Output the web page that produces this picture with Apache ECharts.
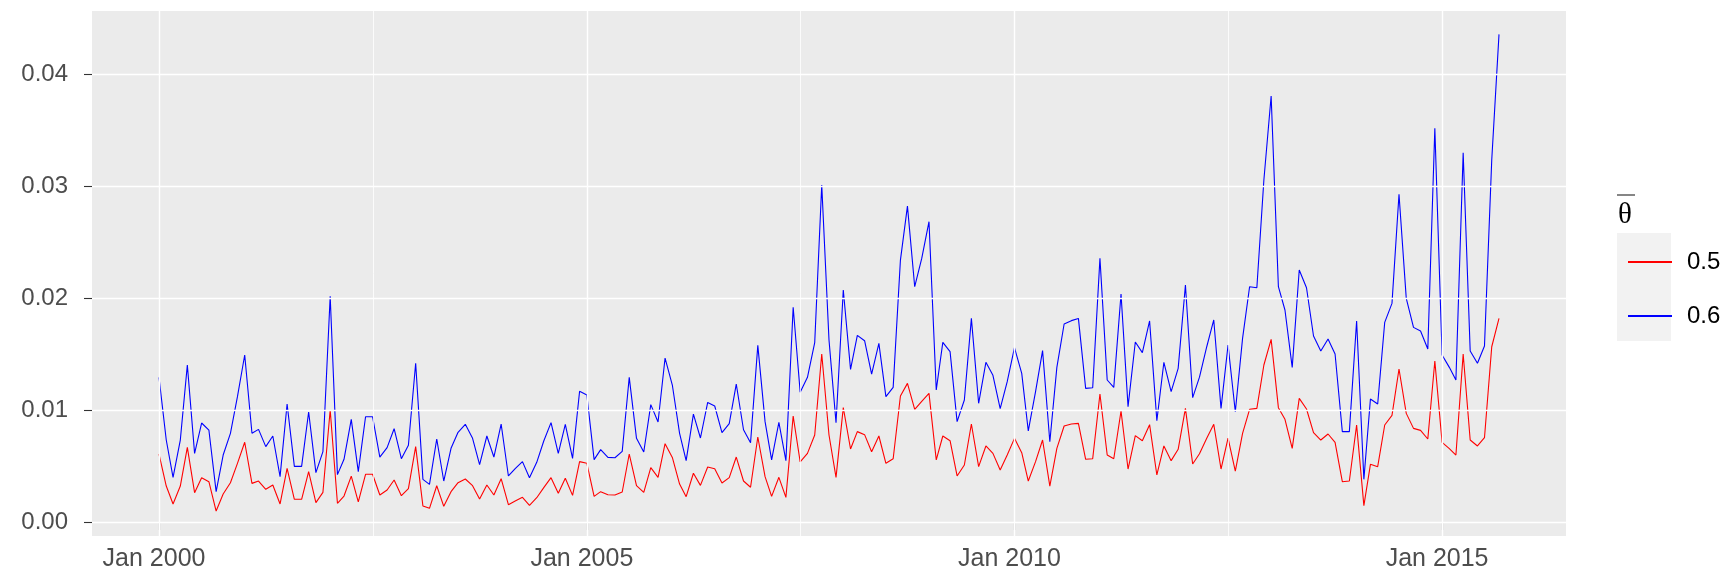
<!DOCTYPE html>
<html>
<head>
<meta charset="utf-8">
<script src="https://cdn.jsdelivr.net/npm/echarts@6/dist/echarts.min.js"></script>
<style>
html,body{margin:0;padding:0;background:#fff;}
#chart{width:1732px;height:578px;}
</style>
</head>
<body>
<div id="chart"></div>
<script>
// ---- data ----
const startYear = 2000;              // first month: Jan 2000, monthly to Sep 2015
const seriesNames = ['0.5', '0.6'];
const theta05 = [
0.00607,0.00321,0.00161,0.00321,0.00667,0.00262,0.00396,0.00360,0.00098,0.00250,0.00351,0.00524,
0.00712,0.00345,0.00366,0.00292,0.00330,0.00161,0.00479,0.00203,0.00203,0.00449,0.00173,0.00265,
0.01000,0.00167,0.00232,0.00410,0.00179,0.00426,0.00426,0.00241,0.00286,0.00375,0.00235,0.00298,
0.00673,0.00143,0.00122,0.00324,0.00140,0.00271,0.00351,0.00384,0.00324,0.00205,0.00330,0.00241,
0.00387,0.00155,0.00188,0.00220,0.00149,0.00217,0.00307,0.00396,0.00256,0.00390,0.00238,0.00539,
0.00524,0.00229,0.00271,0.00244,0.00241,0.00268,0.00607,0.00324,0.00265,0.00485,0.00399,0.00699,
0.00577,0.00339,0.00226,0.00435,0.00327,0.00491,0.00476,0.00348,0.00396,0.00580,0.00366,0.00310,
0.00759,0.00405,0.00229,0.00399,0.00220,0.00946,0.00536,0.00613,0.00777,0.01500,0.00777,0.00399,
0.01021,0.00652,0.00807,0.00780,0.00628,0.00768,0.00524,0.00565,0.01125,0.01238,0.01006,0.01077,
0.01149,0.00554,0.00768,0.00726,0.00411,0.00509,0.00875,0.00494,0.00679,0.00613,0.00464,0.00598,
0.00747,0.00619,0.00366,0.00539,0.00732,0.00321,0.00658,0.00857,0.00875,0.00881,0.00560,0.00565,
0.01143,0.00598,0.00565,0.00991,0.00473,0.00771,0.00726,0.00869,0.00420,0.00679,0.00548,0.00649,
0.01015,0.00518,0.00610,0.00747,0.00872,0.00473,0.00750,0.00455,0.00792,0.01006,0.01015,0.01402,
0.01631,0.01021,0.00917,0.00658,0.01104,0.01009,0.00798,0.00732,0.00786,0.00711,0.00360,0.00366,
0.00866,0.00146,0.00515,0.00494,0.00866,0.00952,0.01366,0.00970,0.00836,0.00818,0.00741,0.01438,
0.00711,0.00655,0.00598,0.01500,0.00732,0.00679,0.00753,0.01565,0.01818
];
const theta06 = [
0.01292,0.00732,0.00399,0.00732,0.01402,0.00613,0.00884,0.00821,0.00271,0.00598,0.00792,0.01119,
0.01491,0.00792,0.00827,0.00673,0.00768,0.00405,0.01054,0.00497,0.00497,0.00982,0.00441,0.00628,
0.02015,0.00423,0.00560,0.00917,0.00450,0.00940,0.00940,0.00580,0.00664,0.00833,0.00565,0.00685,
0.01417,0.00381,0.00336,0.00741,0.00366,0.00658,0.00801,0.00872,0.00747,0.00512,0.00768,0.00580,
0.00875,0.00411,0.00476,0.00539,0.00396,0.00533,0.00723,0.00887,0.00613,0.00872,0.00568,0.01167,
0.01134,0.00557,0.00646,0.00577,0.00574,0.00631,0.01292,0.00747,0.00625,0.01048,0.00893,0.01464,
0.01223,0.00792,0.00548,0.00964,0.00750,0.01068,0.01036,0.00798,0.00878,0.01232,0.00824,0.00708,
0.01577,0.00896,0.00554,0.00890,0.00548,0.01917,0.01158,0.01292,0.01601,0.03009,0.01625,0.00887,
0.02071,0.01363,0.01667,0.01619,0.01321,0.01595,0.01119,0.01202,0.02339,0.02821,0.02101,0.02354,
0.02682,0.01179,0.01604,0.01521,0.00896,0.01089,0.01818,0.01060,0.01426,0.01310,0.01012,0.01253,
0.01557,0.01327,0.00813,0.01164,0.01530,0.00717,0.01381,0.01768,0.01798,0.01818,0.01193,0.01199,
0.02354,0.01268,0.01202,0.02036,0.01030,0.01607,0.01512,0.01795,0.00905,0.01426,0.01164,0.01372,
0.02116,0.01110,0.01293,0.01565,0.01804,0.01015,0.01580,0.00985,0.01640,0.02101,0.02092,0.03054,
0.03804,0.02101,0.01893,0.01381,0.02250,0.02092,0.01661,0.01527,0.01634,0.01500,0.00807,0.00807,
0.01795,0.00381,0.01098,0.01054,0.01783,0.01952,0.02926,0.01997,0.01738,0.01705,0.01545,0.03515,
0.01491,0.01381,0.01268,0.03298,0.01527,0.01417,0.01571,0.03232,0.04354
];
const xTickYears = [2000, 2005, 2010, 2015];
const yTickValues = [0, 0.01, 0.02, 0.03, 0.04];
const yMinorValues = [0.005, 0.015, 0.025, 0.035, 0.045];
const colors = ['#FF0000', '#0000FF'];

// ---- derived ----
const dates = theta05.map((_, i) => Date.UTC(startYear, i, 1));
const firstDate = dates[0], lastDate = dates[dates.length - 1];
const pad = (lastDate - firstDate) * 0.05;
const xMin = firstDate - pad, xMax = lastDate + pad;
const xMajor = xTickYears.map(y => Date.UTC(y, 0, 1));
const xMinor = [];
for (let i = 0; i < xMajor.length - 1; i++) xMinor.push((xMajor[i] + xMajor[i + 1]) / 2);

const gridMajorW = 1.4, gridMinorW = 0.8;
const gridLines = []
  .concat(xMinor.map(v => ({ xAxis: v, lineStyle: { width: gridMinorW } })))
  .concat(yMinorValues.map(v => ({ yAxis: v, lineStyle: { width: gridMinorW } })))
  .concat(xMajor.map(v => ({ xAxis: v, lineStyle: { width: gridMajorW } })))
  .concat(yTickValues.map(v => ({ yAxis: v, lineStyle: { width: gridMajorW } })));

const FONT = '"Liberation Sans", Arial, Helvetica, sans-serif';
const chart = echarts.init(document.getElementById('chart'), null, { renderer: 'canvas' });
chart.setOption({
  animation: false,
  backgroundColor: '#FFFFFF',
  grid: { left: 92, right: 166, top: 11, bottom: 42, show: true, backgroundColor: '#EBEBEB', borderWidth: 0 },
  xAxis: {
    type: 'value', min: xMin, max: xMax,
    splitLine: { show: false },
    axisLine: { show: false },
    axisTick: { show: true, customValues: xMajor, length: 8, lineStyle: { color: '#333333', width: 1.1 } },
    axisLabel: {
      customValues: xMajor,
      formatter: v => 'Jan ' + new Date(v).getUTCFullYear(),
      fontSize: 25, color: '#4D4D4D', fontFamily: FONT, margin: 11, padding: [0, 10, 0, 0]
    }
  },
  yAxis: {
    type: 'value', min: -0.00125, max: 0.04563,
    splitLine: { show: false },
    axisLine: { show: false },
    axisTick: { show: true, customValues: yTickValues, length: 8, lineStyle: { color: '#333333', width: 1.1 } },
    axisLabel: {
      customValues: yTickValues,
      formatter: v => v.toFixed(2),
      fontSize: 24, color: '#4D4D4D', fontFamily: FONT, margin: 24, padding: [8, 0, 0, 0]
    }
  },
  legend: {
    orient: 'vertical', left: 1622, top: 245, z: 5,
    itemWidth: 44, itemHeight: 20, itemGap: 30,
    data: seriesNames,
    itemStyle: { opacity: 0 },
    textStyle: { fontSize: 24, lineHeight: 20, color: '#000000', fontFamily: FONT, padding: [0, 0, 0, 10] }
  },
  graphic: [
    { type: 'rect', z: 0, shape: { x: 1617, y: 233, width: 54, height: 108 }, style: { fill: '#F2F2F2' } },
    { type: 'text', z: 1, x: 1625, y: 215, style: { text: 'θ', fontSize: 29, fontFamily: '"Liberation Serif", "DejaVu Serif", serif', fill: '#000', align: 'center', verticalAlign: 'middle' } },
    { type: 'line', z: 1, shape: { x1: 1617, y1: 195, x2: 1635, y2: 195 }, style: { stroke: '#444', lineWidth: 1.3 } }
  ],
  series: [
    {
      type: 'line', data: [], z: 1, silent: true,
      markLine: {
        silent: true, symbol: ['none', 'none'], animation: false,
        label: { show: false }, emphasis: { disabled: true },
        lineStyle: { color: '#FFFFFF', type: 'solid' },
        data: gridLines
      }
    },
    {
      name: seriesNames[0], type: 'line', z: 2, symbol: 'none', showSymbol: false,
      data: dates.map((d, i) => [d, theta05[i]]),
      lineStyle: { color: colors[0], width: 1.1 }, itemStyle: { color: colors[0] }
    },
    {
      name: seriesNames[1], type: 'line', z: 3, symbol: 'none', showSymbol: false,
      data: dates.map((d, i) => [d, theta06[i]]),
      lineStyle: { color: colors[1], width: 1.1 }, itemStyle: { color: colors[1] }
    }
  ]
});
</script>
</body>
</html>
